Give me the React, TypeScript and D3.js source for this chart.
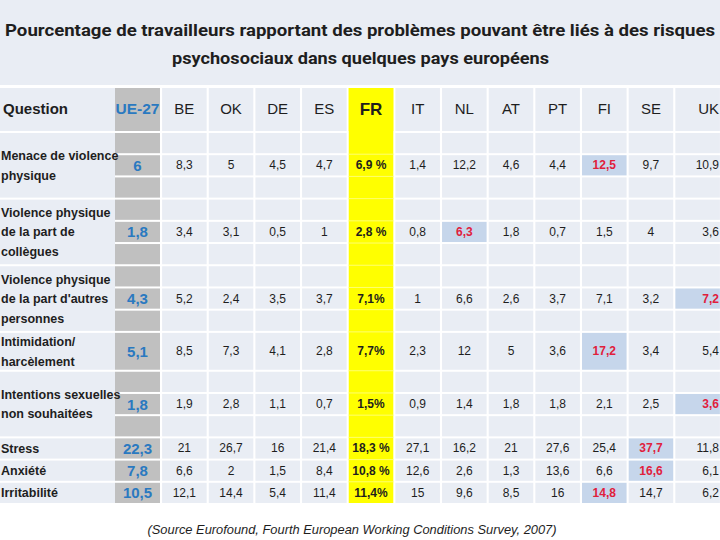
import React from 'react';
import * as d3 from 'd3';

const countries = ['BE', 'OK', 'DE', 'ES', 'FR', 'IT', 'NL', 'AT', 'PT', 'FI', 'SE', 'UK'];

const questions = [
  ['Menace de violence', 'physique'],
  ['Violence physique', 'de la part de', 'collègues'],
  ['Violence physique', "de la part d'autres", 'personnes'],
  ['Intimidation/', 'harcèlement'],
  ['Intentions sexuelles', 'non souhaitées'],
  ['Stress'],
  ['Anxiété'],
  ['Irritabilité'],
];

const ue27 = ['6', '1,8', '4,3', '5,1', '1,8', '22,3', '7,8', '10,5'];

const menace = [8.3, 5, 4.5, 4.7, 6.9, 1.4, 12.2, 4.6, 4.4, 12.5, 9.7, 10.9];
const collegues = [3.4, 3.1, 0.5, 1, 2.8, 0.8, 6.3, 1.8, 0.7, 1.5, 4, 3.6];
const autres = [5.2, 2.4, 3.5, 3.7, 7.1, 1, 6.6, 2.6, 3.7, 7.1, 3.2, 7.2];
const intimidation = [8.5, 7.3, 4.1, 2.8, 7.7, 2.3, 12, 5, 3.6, 17.2, 3.4, 5.4];
const intentions = [1.9, 2.8, 1.1, 0.7, 1.5, 0.9, 1.4, 1.8, 1.8, 2.1, 2.5, 3.6];
const stress = [21, 26.7, 16, 21.4, 18.3, 27.1, 16.2, 21, 27.6, 25.4, 37.7, 11.8];
const anxiete = [6.6, 2, 1.5, 8.4, 10.8, 12.6, 2.6, 1.3, 13.6, 6.6, 16.6, 6.1];
const irritabilite = [12.1, 14.4, 5.4, 11.4, 11.4, 15, 9.6, 8.5, 16, 14.8, 14.7, 6.2];

const rows = [menace, collegues, autres, intimidation, intentions, stress, anxiete, irritabilite];

// how FR shows its percent sign in each row
const frSuffix = [' %', ' %', '%', '%', '%', ' %', ' %', '%'];

// country cell highlighted in each row
const highlighted = ['FI', 'NL', 'UK', 'FI', 'UK', 'SE', 'SE', 'FI'];

// --- Layout ---
const W = 720;
const H = 540;
const bg = '#e9edf4';
const grayCol = '#c0c0c0';
const yellow = '#ffff00';
const hiBlue = '#c6d6eb';
const red = '#e0203c';
const blue = '#2a79c0';
const ink = '#1e1e1e';

const headerTop = 88;
const headerBottom = 131;
const bodyTop = 133;
const bodyBottom = 505;
// each group spans a number of sub-row units; 1 means single row
const rowUnits = [3, 3, 3, 1.75, 3, 1, 1, 1];
const subRows = [3, 3, 3, 1, 3, 1, 1, 1];

const fmt = (v: number) => String(v).replace('.', ',');

const App = () => {
  const x = d3.scaleBand<string>()
    .domain(countries)
    .range([160, 722])
    .paddingInner(0.045)
    .paddingOuter(0.045);

  const cum = [0];
  rowUnits.forEach(u => cum.push(cum[cum.length - 1] + u));
  const y = d3.scaleLinear().domain([0, cum[cum.length - 1]]).range([bodyTop, bodyBottom]);

  const frBand = x('FR')!;
  const ueX0 = 115;
  const ueX1 = 160;
  const gap = 2;

  const colCenter = (c: string) => x(c)! + x.bandwidth() / 2;

  return (
    <svg width={W} height={H} style={{ position: 'absolute', left: 0, top: 0, background: '#fff' }}
      fontFamily="'Liberation Sans', Arial, sans-serif">
      {/* title band */}
      <rect x={0} y={0} width={W} height={85} fill={bg} />
      <text x={5} y={36} fontFamily="Roboto, sans-serif" fontWeight="bold" fontSize={17} fill={ink}
        textLength={710} lengthAdjust="spacingAndGlyphs">
        Pourcentage de travailleurs rapportant des problèmes pouvant être liés à des risques
      </text>
      <text x={172} y={64} fontFamily="Roboto, sans-serif" fontWeight="bold" fontSize={17} fill={ink}
        textLength={377} lengthAdjust="spacingAndGlyphs">
        psychosociaux dans quelques pays européens
      </text>

      {/* header row */}
      <rect x={0} y={headerTop} width={ueX0} height={headerBottom - headerTop} fill={bg} />
      <rect x={ueX0} y={headerTop} width={ueX1 - ueX0} height={headerBottom - headerTop} fill={grayCol} />
      {countries.map(c => (
        <rect key={c} x={x(c)} y={headerTop} width={x.bandwidth()} height={headerBottom - headerTop}
          fill={c === 'FR' ? yellow : bg} />
      ))}

      {/* FR column background, continuous */}
      <rect x={frBand} y={headerTop} width={x.bandwidth()} height={bodyBottom - headerTop - gap} fill={yellow} />

      <text x={3} y={114} fontWeight="bold" fontSize={15} fill={ink}>Question</text>
      <text x={(ueX0 + ueX1) / 2} y={114} textAnchor="middle" fontWeight="bold" fontSize={15.5} fill={blue}>UE-27</text>
      {countries.map(c => (
        <text key={c} x={c === 'UK' ? 719 : colCenter(c)} y={c === 'FR' ? 115 : 114} textAnchor={c === 'UK' ? 'end' : 'middle'}
          fontSize={c === 'FR' ? 17 : 15} fontWeight={c === 'FR' ? 'bold' : 'normal'} fill={ink}>{c}</text>
      ))}

      {/* body rows */}
      {rows.map((vals, r) => {
        const top = y(cum[r]);
        const bottom = y(cum[r + 1]);
        const n = subRows[r];
        const subH = (bottom - top) / n;
        const mid = (top + bottom) / 2;
        const midSub = Math.floor(n / 2);
        const lines = questions[r];
        const lh = 19.5;
        return (
          <g key={r}>
            <rect x={0} y={top} width={ueX0} height={bottom - top - gap} fill={bg} />
            {d3.range(n).map(s => (
              <g key={s}>
                <rect x={ueX0} y={top + s * subH} width={ueX1 - ueX0} height={subH - gap} fill={grayCol} />
                {countries.filter(c => c !== 'FR').map(c => (
                  <rect key={c} x={x(c)} y={top + s * subH} width={x.bandwidth()} height={subH - gap}
                    fill={s === midSub && highlighted[r] === c ? hiBlue : bg} />
                ))}
                {s > 0 && (
                  <line x1={frBand} x2={frBand + x.bandwidth()} y1={top + s * subH - 1} y2={top + s * subH - 1}
                    stroke="#ffff70" strokeWidth={1} />
                )}
              </g>
            ))}
            {r > 0 && (
              <line x1={frBand} x2={frBand + x.bandwidth()} y1={top - 1} y2={top - 1} stroke="#ffff70" strokeWidth={1} />
            )}
            {lines.map((l, i) => (
              <text key={i} x={1} y={mid - gap / 2 + (i - (lines.length - 1) / 2) * lh + 4.5}
                fontWeight="bold" fontSize={12.5} fill={ink}>{l}</text>
            ))}
            <text x={(ueX0 + ueX1) / 2} y={mid - gap / 2 + 5.5} textAnchor="middle" fontWeight="bold"
              fontSize={15} fill={blue}>{ue27[r]}</text>
            {vals.map((v, i) => {
              const c = countries[i];
              const isFR = c === 'FR';
              const isHi = highlighted[r] === c;
              return (
                <text key={c} x={c === 'UK' ? 719 : colCenter(c)} y={mid - gap / 2 + 4}
                  textAnchor={c === 'UK' ? 'end' : 'middle'}
                  fontSize={12} fontWeight={isFR || isHi ? 'bold' : 'normal'}
                  fill={isHi ? red : ink}>
                  {isFR ? fmt(v) + frSuffix[r] : fmt(v)}
                </text>
              );
            })}
          </g>
        );
      })}

      {/* source */}
      <text x={352} y={534} textAnchor="middle" fontStyle="italic" fontSize={13.5} fill={ink}
        textLength={409} lengthAdjust="spacingAndGlyphs">
        (Source Eurofound, Fourth European Working Conditions Survey, 2007)
      </text>
    </svg>
  );
};

export default App;
